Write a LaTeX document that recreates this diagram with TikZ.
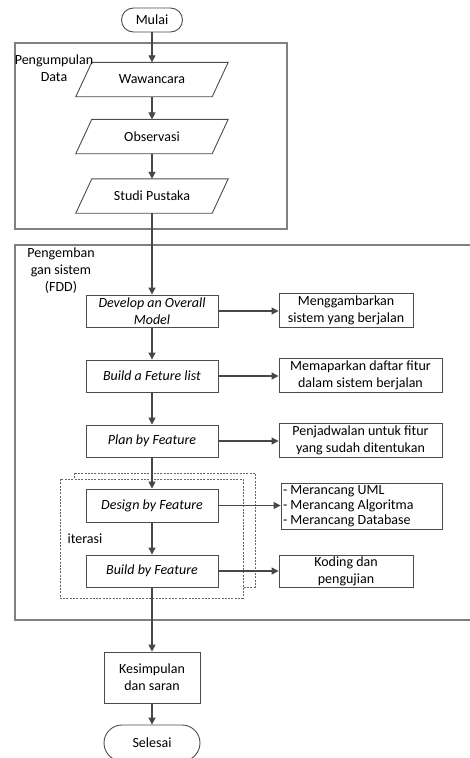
\documentclass[tikz,border=0pt]{standalone}
\usepackage{fontspec}
\setmainfont{Carlito}
\usetikzlibrary{arrows.meta}
\begin{document}
\begin{tikzpicture}[x=1pt,y=-1pt,
  every node/.style={font=\fontsize{14}{17}\selectfont, text=black},
  lnk/.style={draw=black!72, line width=1.2pt, -{Triangle[length=7pt,width=7pt]}},
  frame/.style={draw=black!50, line width=1.4pt},
  dsh/.style={draw=black!60, line width=0.8pt, dash pattern=on 2pt off 1.3pt},
  stepbox/.style={draw=black!70, line width=0.9pt, minimum width=132pt, minimum height=32pt, inner sep=1pt, align=center, font=\fontsize{14}{17}\selectfont\itshape},
  notebox/.style={draw=black!70, line width=0.9pt, minimum height=34pt, inner sep=1pt, align=center},
  termbox/.style={draw=black!70, line width=0.9pt, inner sep=0pt},
  parabox/.style={minimum width=136pt, minimum height=34pt, inner sep=0pt},
  parab/.style={draw=black!70, line width=0.9pt},
  lbl/.style={align=center, inner sep=0pt}
]
\useasboundingbox (0,0) rectangle (470,758);
\clip (0,0) rectangle (470,758);

% containers
\draw[frame] (15,43) rectangle (287,229);
\draw[frame] (475,245) -- (15,245) -- (15,620) -- (475,620);

% iteration frames
\draw[dsh] (74,473) rectangle (255,587);
\draw[dsh, fill=white] (60,479) rectangle (243,598);

% terminals
\node[termbox, rounded corners=12pt, minimum width=61pt, minimum height=24pt] (mulai) at (152,20) {Mulai};
\node[termbox, rounded corners=18pt, minimum width=96pt, minimum height=36pt] (selesai) at (152,743) {Selesai};

% data collection
\node[parabox] (w) at (152,79.5) {Wawancara};
\node[parabox] (o) at (152,136.5) {Observasi};
\node[parabox] (s) at (152,196) {Studi Pustaka};
\foreach \n in {w,o,s}{
  \draw[parab] ([xshift=-8pt]\n.south west) -- ([xshift=8pt]\n.north west)
    -- ([xshift=8pt]\n.north east) -- ([xshift=-8pt]\n.south east) -- cycle;
}

% FDD steps
\node[stepbox] (dev) at (152,311) {Develop an Overall\\Model};
\node[stepbox] (bfl) at (152,376) {Build a Feture list};
\node[stepbox] (pbf) at (152,441) {Plan by Feature};
\node[stepbox, minimum height=33pt] (dbf) at (152,505.5) {Design by Feature};
\node[stepbox] (bbf) at (152,571) {Build by Feature};
\node[notebox, minimum width=96pt, minimum height=51pt] (kes) at (152,677.5) {Kesimpulan\\dan saran};

% notes
\node[notebox, minimum width=134pt] (mg) at (346,310) {Menggambarkan\\sistem yang berjalan};
\node[notebox, minimum width=163pt] (mp) at (360.5,375) {Memaparkan daftar fitur\\dalam sistem berjalan};
\node[notebox, minimum width=163pt] (pj) at (360.5,440) {Penjadwalan untuk fitur\\yang sudah ditentukan};
\node[notebox, minimum height=46pt, text width=157pt, inner sep=2pt, align=flush left, font=\fontsize{14}{15}\selectfont] (ml) at (361.5,506) {- Merancang UML\\- Merancang Algoritma\\- Merancang Database};
\node[notebox, minimum width=134pt, minimum height=32pt] (kd) at (346,571) {Koding dan\\pengujian};

% labels
\node[lbl] (lpd) at (54,68.5) {Pengumpulan\\Data};
\node[lbl] (lfdd) at (61,271) {Pengemban\\gan sistem\\(FDD)};
\node[lbl] (lit) at (85,539) {iterasi};

% connectors
\draw[lnk] (mulai) -- (w);
\draw[lnk] (w) -- (o);
\draw[lnk] (o) -- (s);
\draw[lnk] (s) -- (dev);
\draw[lnk] (dev) -- (bfl);
\draw[lnk] (bfl) -- (pbf);
\draw[lnk] (pbf) -- (dbf);
\draw[lnk] (dbf) -- (bbf);
\draw[lnk] (bbf) -- (kes);
\draw[lnk] (kes) -- (selesai);
\draw[lnk] (dev.east) -- (dev.east -| mg.west);
\draw[lnk] (bfl.east) -- (bfl.east -| mp.west);
\draw[lnk] (pbf.east) -- (pbf.east -| pj.west);
\draw[lnk] (dbf.east) -- (dbf.east -| ml.west);
\draw[lnk] (bbf.east) -- (bbf.east -| kd.west);
\end{tikzpicture}
\end{document}
